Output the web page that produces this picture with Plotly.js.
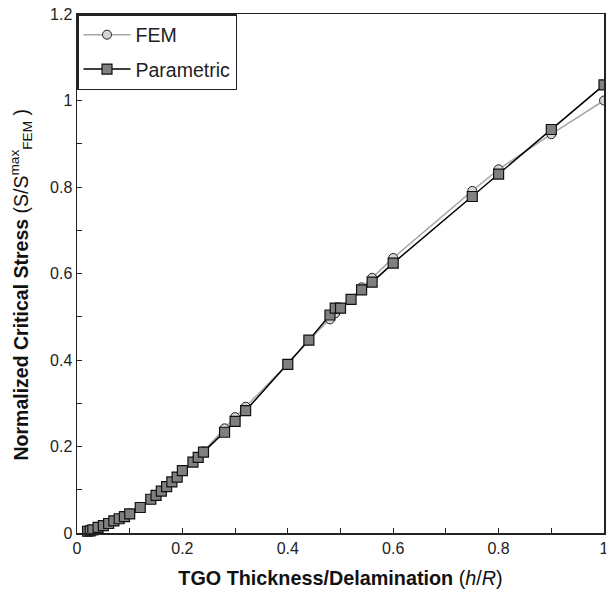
<!DOCTYPE html>
<html><head><meta charset="utf-8">
<script src="https://cdn.plot.ly/plotly-3.0.1.min.js"></script>
<style>body{margin:0;background:#fff}#c{width:606px;height:591px}</style>
</head><body><div id="c"></div>
<script>
const femX = [0.02,0.025,0.03,0.04,0.05,0.06,0.07,0.08,0.09,0.1,0.12,0.14,0.15,0.16,0.17,0.18,0.19,0.2,0.22,0.23,0.24,0.28,0.3,0.32,0.4,0.44,0.48,0.49,0.5,0.52,0.54,0.56,0.6,0.75,0.8,0.9,1.0];
const femY = [0.004,0.005,0.007,0.013,0.017,0.022,0.028,0.033,0.038,0.045,0.059,0.078,0.087,0.097,0.107,0.118,0.129,0.144,0.165,0.176,0.189,0.242,0.268,0.292,0.391,0.446,0.494,0.508,0.520,0.540,0.568,0.590,0.636,0.791,0.841,0.922,1.0];
const parX = [0.02,0.025,0.03,0.04,0.05,0.06,0.07,0.08,0.09,0.1,0.12,0.14,0.15,0.16,0.17,0.18,0.19,0.2,0.22,0.23,0.24,0.28,0.3,0.32,0.4,0.44,0.48,0.49,0.5,0.52,0.54,0.56,0.6,0.75,0.8,0.9,1.0];
const parY = [0.004,0.005,0.007,0.013,0.017,0.022,0.028,0.033,0.038,0.044,0.059,0.078,0.087,0.097,0.107,0.118,0.129,0.144,0.164,0.175,0.187,0.233,0.258,0.283,0.390,0.446,0.504,0.520,0.520,0.540,0.562,0.580,0.624,0.778,0.830,0.933,1.036];
const xTitle = '<b>TGO Thickness/Delamination</b> (<i>h</i>/<i>R</i>)';
const yTitle = '<b>Normalized Critical Stress</b> (S/S<sup>max</sup><sub>FEM</sub> )';

const traces = [
  {x: femX, y: femY, name: 'FEM', legendgroup: 'fem', mode: 'lines+markers', cliponaxis: false,
   line: {color: '#a8a8a8', width: 1.5},
   marker: {symbol: 'circle', size: 9, color: '#d4d4d4', line: {color: '#222', width: 1}}},
  {x: parX, y: parY, name: 'Parametric', legendgroup: 'par', mode: 'lines+markers', cliponaxis: false,
   line: {color: '#000', width: 1.5},
   marker: {symbol: 'square', size: 10, color: '#808080', line: {color: '#111', width: 1.2}}}
];

const axisCommon = {
  showline: true, linecolor: '#222', linewidth: 1.5, mirror: true,
  showgrid: false, zeroline: false, ticks: 'inside', ticklen: 5, tickwidth: 1, tickcolor: '#222',
  ticklabeloverflow: 'allow',
  tickfont: {family: 'Liberation Sans, Arial, sans-serif', size: 16, color: '#222'},
  minor: {ticks: 'inside', ticklen: 5, tickwidth: 1, tickcolor: '#222', dtick: 0.1, showgrid: false}
};

const layout = {
  width: 606, height: 591,
  margin: {l: 77, r: 2, t: 14, b: 58},
  paper_bgcolor: '#fff', plot_bgcolor: '#fff',
  font: {family: 'Liberation Sans, Arial, sans-serif', color: '#222'},
  showlegend: true,
  legend: {x: 0, y: 1, xanchor: 'left', yanchor: 'top', bgcolor: '#fff', bordercolor: '#222', borderwidth: 1.5,
    font: {size: 19.5, color: '#222'}, itemwidth: 47, tracegroupgap: 6},
  xaxis: Object.assign({}, axisCommon, {range: [0, 1], dtick: 0.2, tick0: 0,
    title: {text: xTitle, font: {size: 19.8, color: '#111'}, standoff: 15}}),
  yaxis: Object.assign({}, axisCommon, {range: [0, 1.2], dtick: 0.2, tick0: 0}),
  annotations: [{text: yTitle, textangle: -90, xref: 'paper', yref: 'paper', x: -0.1072, y: 0.4778,
    xanchor: 'center', yanchor: 'middle', showarrow: false, font: {size: 19.5, color: '#111'}}]
};
Plotly.newPlot('c', traces, layout, {displayModeBar: false, staticPlot: true});
</script></body></html>
